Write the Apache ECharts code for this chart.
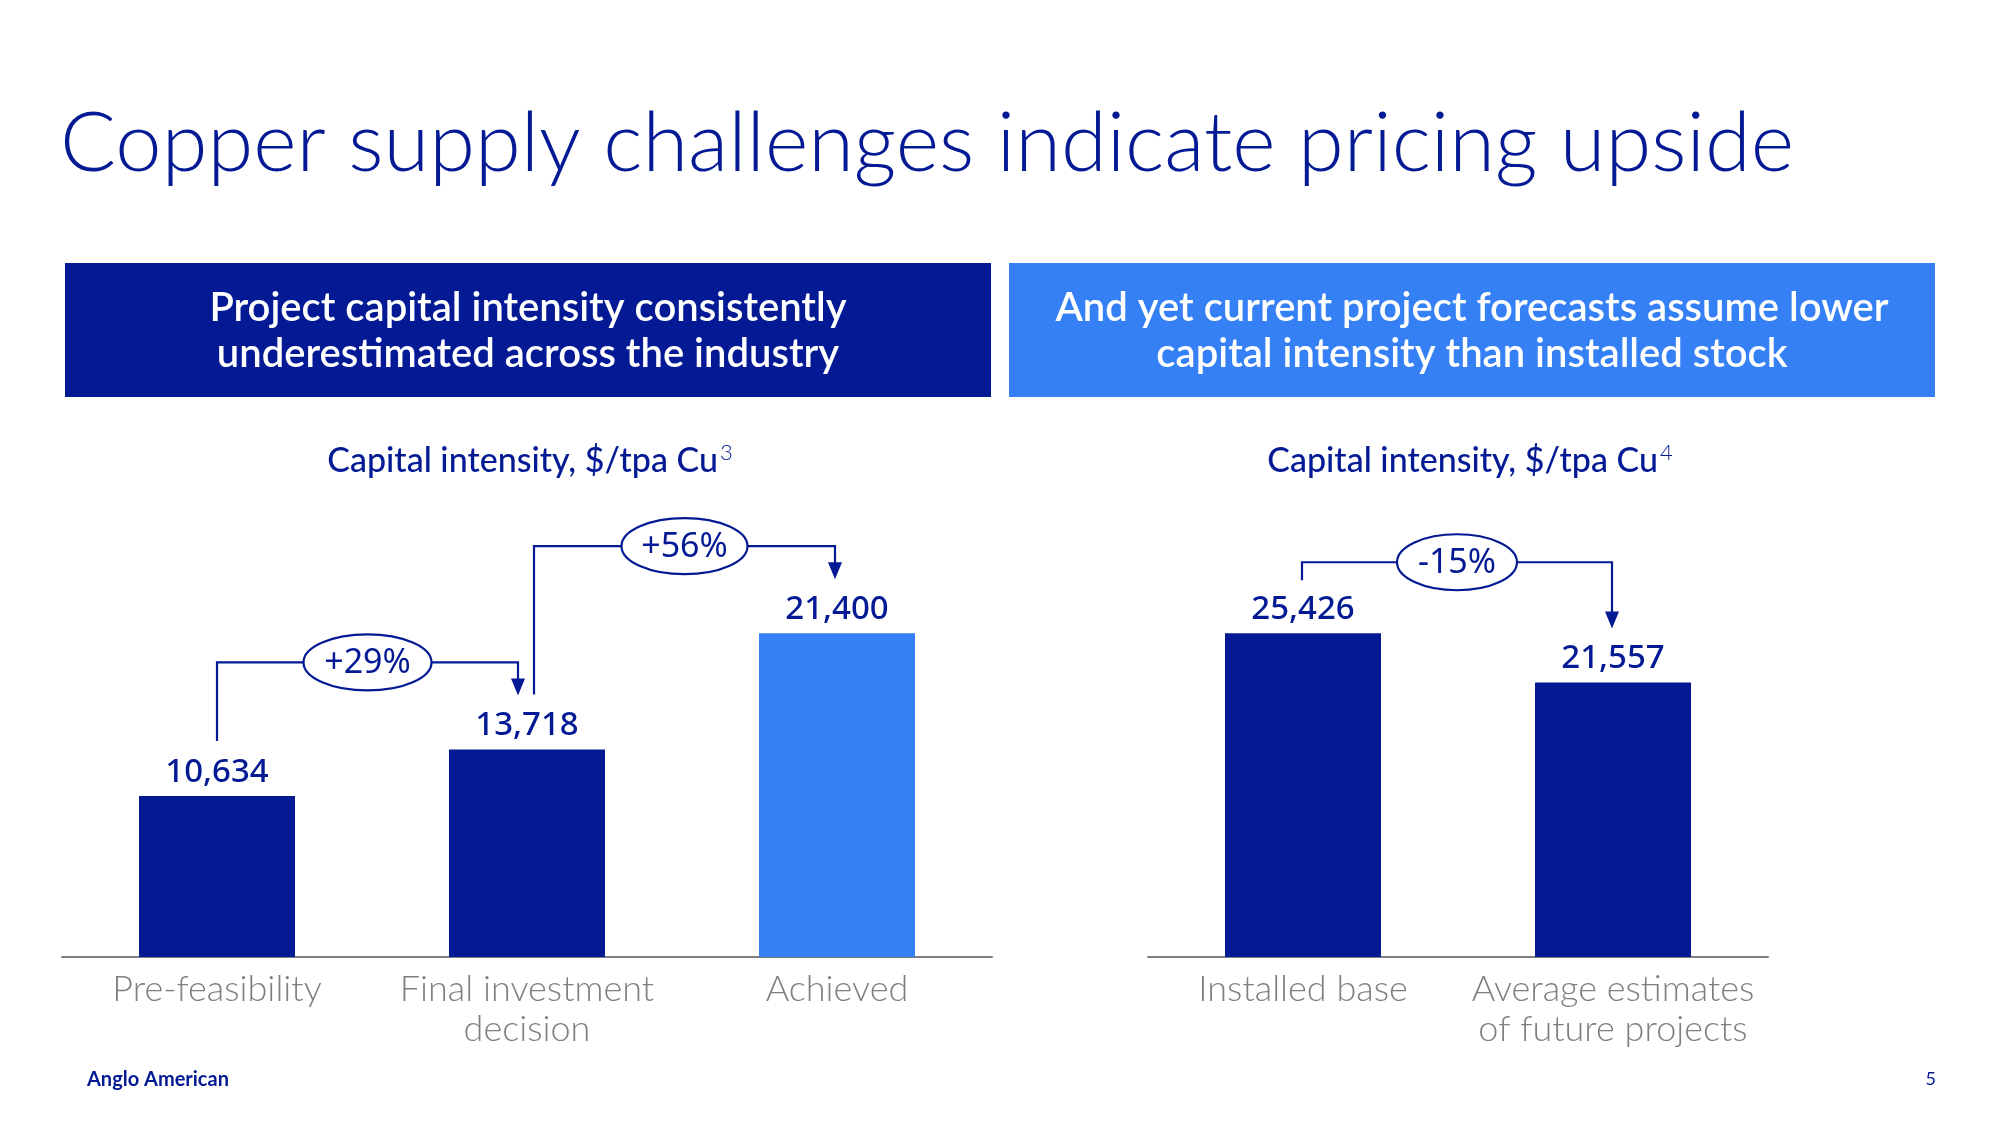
<!DOCTYPE html>
<html><head><meta charset="utf-8">
<script src="https://cdn.jsdelivr.net/npm/echarts@6/dist/echarts.min.js"></script>
<style>html,body{margin:0;padding:0;background:#fff}#c{width:2000px;height:1125px}</style>
</head><body><div id="c"></div>
<script>
// ---- data ----
const pageTitle = 'Copper supply challenges indicate pricing upside';
const leftHeader = ['Project capital intensity consistently', 'underestimated across the industry'];
const rightHeader = ['And yet current project forecasts assume lower', 'capital intensity than installed stock'];
const leftSubtitle = 'Capital intensity, $/tpa Cu';
const leftNote = '3';
const rightSubtitle = 'Capital intensity, $/tpa Cu';
const rightNote = '4';
const leftCategories = ['Pre-feasibility', 'Final investment\ndecision', 'Achieved'];
const leftValues = [10634, 13718, 21400];
const rightCategories = ['Installed base', 'Average estimates\nof future projects'];
const rightValues = [25426, 21557];
const leftChanges = ['+29%', '+56%'];
const rightChanges = ['-15%'];
const footerBrand = 'Anglo American';
const pageNumber = '5';

// ---- style ----
const NAVY = '#031A94';
const BLUE = '#3580F5';
const GRAY = '#7f7f7f';
const FONT = 'Lato';
const LABEL_FONT = 'Noto Sans';
const leftColors = [NAVY, NAVY, BLUE];
const rightColors = [NAVY, NAVY];

const chart = echarts.init(document.getElementById('c'));

function fmt(v) { return v.toLocaleString('en-US'); }

function xAxisCfg(gi, cats) {
  return {
    gridIndex: gi, type: 'category', data: cats,
    axisLine: { lineStyle: { color: GRAY, width: 2 } },
    axisTick: { show: false },
    axisLabel: { interval: 0, color: GRAY, fontSize: 36, lineHeight: 40, margin: 12, fontFamily: FONT, fontWeight: 300 }
  };
}
function seriesCfg(i, vals, colors) {
  return {
    type: 'bar', xAxisIndex: i, yAxisIndex: i, barWidth: 156,
    data: vals.map((v, k) => ({ value: v, itemStyle: { color: colors[k] } })),
    label: { show: true, position: 'top', distance: 7, formatter: p => fmt(p.value),
      color: NAVY, fontSize: 33, fontFamily: LABEL_FONT, fontWeight: 500 }
  };
}

chart.setOption({
  animation: false,
  backgroundColor: '#fff',
  grid: [
    { left: 62, width: 930, top: 503, height: 454 },
    { left: 1148, width: 620, top: 575, height: 382 }
  ],
  xAxis: [xAxisCfg(0, leftCategories), xAxisCfg(1, rightCategories)],
  yAxis: [
    { gridIndex: 0, type: 'value', min: 0, max: 30000, show: false },
    { gridIndex: 1, type: 'value', min: 0, max: 30000, show: false }
  ],
  series: [seriesCfg(0, leftValues, leftColors), seriesCfg(1, rightValues, rightColors)]
});

const g = [];
// title
g.push({ type: 'text', x: 60, y: 144, style: { text: pageTitle, fill: NAVY, fontSize: 83, fontFamily: FONT, fontWeight: 300, align: 'left', verticalAlign: 'middle' } });
// header boxes
function header(x, w, color, lines) {
  g.push({ type: 'rect', shape: { x: x, y: 263, width: w, height: 134 }, style: { fill: color } });
  lines.forEach((t, i) => g.push({ type: 'text', x: x + w / 2, y: 308 + i * 46,
    style: { text: t, fill: '#fff', fontSize: 40, fontFamily: FONT, fontWeight: 600, align: 'center', verticalAlign: 'middle' } }));
}
header(65, 926, NAVY, leftHeader);
header(1009, 926, BLUE, rightHeader);
// subtitles
function subtitle(cx, text, note) {
  g.push({ type: 'text', x: cx, y: 461, style: {
    text: '{a|' + text + '}{s|' + note + '}', align: 'center', verticalAlign: 'middle',
    rich: {
      a: { fill: NAVY, fontSize: 34, fontFamily: FONT, fontWeight: 500, lineHeight: 38 },
      s: { fill: NAVY, fontSize: 22, fontFamily: FONT, fontWeight: 300, verticalAlign: 'top', lineHeight: 38, padding: [0, 0, 14, 2] }
    } } });
}
// connectors
function connector(si, from, to, text, rise, startDx, endDx, startGap, rx) {
  const vals = si === 0 ? leftValues : rightValues;
  const a = chart.convertToPixel({ seriesIndex: si }, [from, vals[from]]);
  const b = chart.convertToPixel({ seriesIndex: si }, [to, vals[to]]);
  const level = Math.min(a[1], b[1]) - rise;
  const x1 = a[0] + startDx, x2 = b[0] + endDx;
  const y0 = a[1] - startGap, tip = b[1] - 54;
  g.push({ type: 'polyline', shape: { points: [[x1, y0], [x1, level], [x2, level], [x2, tip - 15]] },
    style: { stroke: NAVY, lineWidth: 2.2, fill: null } });
  g.push({ type: 'polygon', shape: { points: [[x2 - 7, tip - 17], [x2 + 7, tip - 17], [x2, tip]] }, style: { fill: NAVY } });
  const cx = (x1 + x2) / 2;
  g.push({ type: 'ellipse', shape: { cx: cx, cy: level, rx: rx, ry: 28 }, style: { fill: '#fff', stroke: NAVY, lineWidth: 2.2 } });
  g.push({ type: 'text', x: cx, y: level + 1, style: { text: text, fill: NAVY, fontSize: 34, fontFamily: LABEL_FONT, align: 'center', verticalAlign: 'middle' } });
}
subtitle(530, leftSubtitle, leftNote);
subtitle(1470, rightSubtitle, rightNote);
connector(0, 0, 1, leftChanges[0], 87, 0, -9, 55, 64);
connector(0, 1, 2, leftChanges[1], 87, 7, -2, 55, 63);
connector(1, 0, 1, rightChanges[0], 71, -1, -1, 53, 60);
// footer
g.push({ type: 'text', x: 87, y: 1080, style: { text: footerBrand, fill: NAVY, fontSize: 20, fontFamily: FONT, fontWeight: 700, align: 'left', verticalAlign: 'middle' } });
g.push({ type: 'text', x: 1936, y: 1079, style: { text: pageNumber, fill: NAVY, fontSize: 18, fontFamily: FONT, align: 'right', verticalAlign: 'middle' } });

chart.setOption({ graphic: g });
</script>
</body></html>
